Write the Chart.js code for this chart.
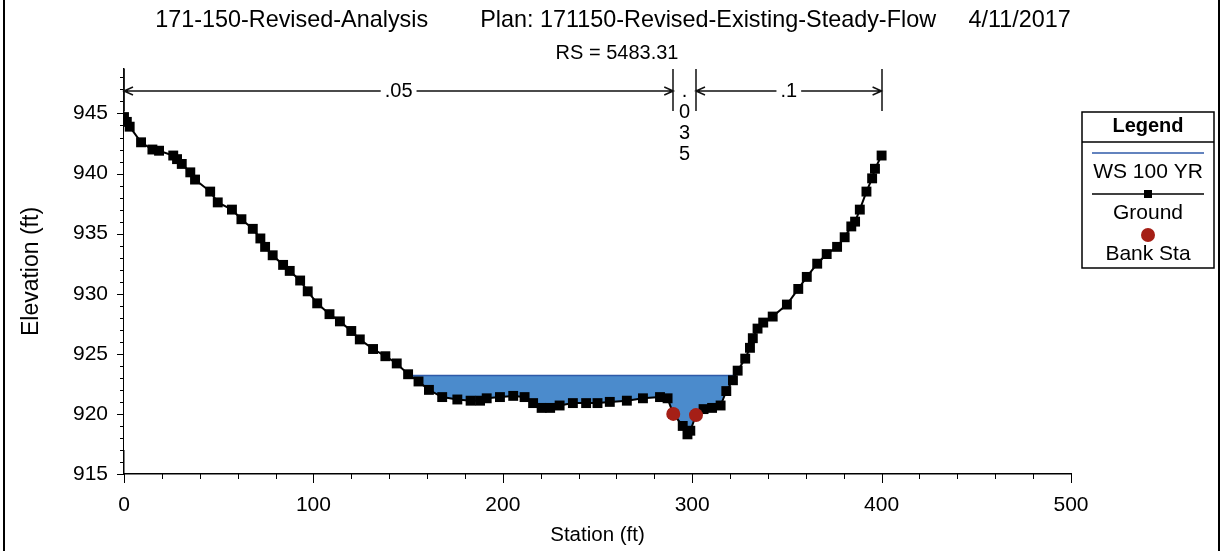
<!DOCTYPE html>
<html lang="es">
<head>
<meta charset="utf-8">
<title>RS = 5483.31</title>
<script src="https://cdn.jsdelivr.net/npm/chart.js@4.4.1/dist/chart.umd.min.js"></script>
<style>
  html, body { margin: 0; padding: 0; background: #fff; }
  #contenedor { width: 1223px; height: 551px; }
</style>
</head>
<body>
<div id="contenedor"><canvas id="graficoSeccion" width="1223" height="551"></canvas></div>
<script>
// Datos de la sección transversal
const estacionesTerreno = [0, 1.5, 3, 9, 15, 18.5, 26, 28, 30.5, 35, 37.5, 45.5, 49.5, 57, 62, 68, 72, 74.5, 78.5, 84,
    87.5, 93, 97, 102, 108.5, 114, 120, 124.5, 131.5, 138, 144, 150, 155.5, 161, 168, 176, 183, 188, 191.5, 198.5,
    205.5, 211.5, 216, 220.5, 225, 230, 237, 244, 250, 256.5, 265.5, 274, 283, 287, 290, 295, 297.5, 299, 302, 306,
    310.5, 315, 318, 321.5, 324, 328, 330.5, 332, 334.5, 337.5, 342.5, 350, 356, 360.5, 366, 371, 376.5, 380.5, 384, 386,
    388.5, 392, 395, 396.5, 400];
const cotasTerreno = [944.7, 944.3, 943.9, 942.6, 942.0, 941.9, 941.5, 941.2, 940.8, 940.1, 939.5, 938.5, 937.6, 937.0, 936.2, 935.4, 934.6, 933.9, 933.2, 932.4,
    931.9, 931.1, 930.2, 929.2, 928.3, 927.7, 926.9, 926.2, 925.4, 924.8, 924.2, 923.3, 922.7, 922.0, 921.4, 921.2, 921.1, 921.1, 921.3, 921.4,
    921.5, 921.4, 920.9, 920.5, 920.5, 920.7, 920.9, 920.9, 920.9, 921.0, 921.1, 921.3, 921.4, 921.3, 920.0, 919.0, 918.3, 918.6, 919.9, 920.4,
    920.5, 920.7, 921.9, 922.8, 923.6, 924.6, 925.5, 926.3, 927.1, 927.6, 928.1, 929.1, 930.4, 931.4, 932.5, 933.3, 933.9, 934.7, 935.6, 936.0,
    937.0, 938.5, 939.6, 940.4, 941.5];

// Nivel de agua (WS 100 YR) y estaciones de banco
const estacionesAgua = [150.9, 322.8];
const cotasAgua = [923.2, 923.2];
const estacionesBanco = [290, 302];
const cotasBanco = [920.0, 919.9];

// Coeficientes de Manning por tramo
const limitesManning = [0, 290, 302, 400];
const valoresManning = ['.05', '.035', '.1'];

// Marcas de los ejes
const ticksEstacion = [0, 100, 200, 300, 400, 500];
const ticksCota = [915, 920, 925, 930, 935, 940, 945];

const tituloLinea1 = '171-150-Revised-Analysis        Plan: 171150-Revised-Existing-Steady-Flow     4/11/2017';
const tituloLinea2 = 'RS = 5483.31';

const FUENTE = '"Liberation Sans", Arial, sans-serif';

function aPuntos(xs, ys) {
    return xs.map((valor, i) => ({ x: valor, y: ys[i] }));
}

// Dibuja títulos y marco exterior
function dibujarTitulos(chart) {
    const ctx = chart.ctx;
    ctx.save();
    ctx.fillStyle = '#000';
    ctx.textAlign = 'center';
    ctx.textBaseline = 'middle';
    ctx.font = '23.4px ' + FUENTE;
    ctx.fillText(tituloLinea1, 613, 21);
    ctx.font = '20px ' + FUENTE;
    ctx.fillText(tituloLinea2, 617, 53);

    // marco exterior
    ctx.strokeStyle = '#000';
    ctx.lineWidth = 2;
    ctx.beginPath();
    ctx.moveTo(4, 0); ctx.lineTo(4, 551);
    ctx.moveTo(1219, 0); ctx.lineTo(1219, 551);
    ctx.stroke();
    ctx.restore();
}

// Marcas mayores y menores de los ejes
function dibujarMarcasEjes(chart) {
    const { ctx, chartArea, scales: { x, y } } = chart;
    ctx.save();
    ctx.strokeStyle = '#000';
    ctx.lineWidth = 1;
    ctx.beginPath();
    for (let v = 915; v <= 948; v++) {
        const py = Math.round(y.getPixelForValue(v)) + 0.5;
        const largo = v % 5 === 0 ? 7 : 4;
        ctx.moveTo(chartArea.left - largo, py);
        ctx.lineTo(chartArea.left, py);
    }
    for (let v = 0; v <= 500; v += 20) {
        const px = Math.round(x.getPixelForValue(v)) + 0.5;
        const largo = v % 100 === 0 ? 9 : 5;
        ctx.moveTo(px, chartArea.bottom);
        ctx.lineTo(px, chartArea.bottom + largo);
    }
    ctx.stroke();
    ctx.restore();
}

function flecha(ctx, px, py, dir) {
    ctx.moveTo(px - dir * 9, py - 4);
    ctx.lineTo(px, py);
    ctx.lineTo(px - dir * 9, py + 4);
}

// Tramos de Manning sobre el gráfico
function dibujarManning(chart) {
    const { ctx, chartArea, scales: { x } } = chart;
    const ySup = chartArea.top;
    const yInf = chartArea.top + 42;
    const yFlecha = chartArea.top + 22;
    ctx.save();
    ctx.strokeStyle = '#111';
    ctx.fillStyle = '#000';
    ctx.lineWidth = 1.5;
    ctx.font = '20px ' + FUENTE;
    ctx.textAlign = 'center';
    ctx.textBaseline = 'middle';

    ctx.beginPath();
    limitesManning.forEach(est => {
        const px = Math.round(x.getPixelForValue(est));
        ctx.moveTo(px, ySup);
        ctx.lineTo(px, yInf);
    });

    valoresManning.forEach((valor, i) => {
        const x1 = x.getPixelForValue(limitesManning[i]);
        const x2 = x.getPixelForValue(limitesManning[i + 1]);
        const cx = (x1 + x2) / 2;
        const ancho = ctx.measureText(valor).width;
        if (x2 - x1 < ancho + 30) {
            // tramo estrecho: texto en vertical
            valor.split('').forEach((c, j) => ctx.fillText(c, cx, yFlecha + j * 21));
            return;
        }
        ctx.moveTo(x1, yFlecha);
        ctx.lineTo(cx - ancho / 2 - 4, yFlecha);
        ctx.moveTo(cx + ancho / 2 + 4, yFlecha);
        ctx.lineTo(x2, yFlecha);
        flecha(ctx, x1, yFlecha, -1);
        flecha(ctx, x2, yFlecha, 1);
        ctx.fillText(valor, cx, yFlecha);
    });
    ctx.stroke();
    ctx.restore();
}

// Leyenda al estilo HEC-RAS
function dibujarLeyenda(chart) {
    const ctx = chart.ctx;
    const caja = { izq: 1082, sup: 112, ancho: 132, alto: 156 };
    const cx = caja.izq + caja.ancho / 2;
    ctx.save();
    ctx.fillStyle = '#fff';
    ctx.fillRect(caja.izq, caja.sup, caja.ancho, caja.alto);
    ctx.strokeStyle = '#000';
    ctx.lineWidth = 1.5;
    ctx.strokeRect(caja.izq, caja.sup, caja.ancho, caja.alto);
    ctx.beginPath();
    ctx.moveTo(caja.izq, caja.sup + 30);
    ctx.lineTo(caja.izq + caja.ancho, caja.sup + 30);
    ctx.stroke();

    ctx.fillStyle = '#000';
    ctx.textAlign = 'center';
    ctx.textBaseline = 'middle';
    ctx.font = 'bold 20px ' + FUENTE;
    ctx.fillText('Legend', cx, caja.sup + 14);

    const orden = [2, 1, 0];
    orden.forEach((indice, i) => {
        const ds = chart.data.datasets[indice];
        const ySimbolo = 153 + i * 41;
        const yTexto = 172 + i * 41;
        if (ds.showLine !== false) {
            ctx.strokeStyle = ds.borderColor;
            ctx.lineWidth = 1.5;
            ctx.beginPath();
            ctx.moveTo(caja.izq + 10, ySimbolo);
            ctx.lineTo(caja.izq + caja.ancho - 10, ySimbolo);
            ctx.stroke();
        }
        if (ds.pointRadius > 0) {
            ctx.fillStyle = ds.pointBackgroundColor;
            ctx.beginPath();
            if (ds.pointStyle === 'rect') {
                ctx.rect(cx - 4, ySimbolo - 4, 8, 8);
            } else {
                ctx.arc(cx, ySimbolo, 7, 0, Math.PI * 2);
            }
            ctx.fill();
        }
        ctx.fillStyle = '#000';
        ctx.font = '21px ' + FUENTE;
        ctx.fillText(ds.label, cx, yTexto);
    });
    ctx.restore();
}

const pluginDecoracion = {
    id: 'decoracion',
    beforeDraw(chart) {
        dibujarTitulos(chart);
    },
    afterDraw(chart) {
        dibujarMarcasEjes(chart);
        dibujarManning(chart);
        dibujarLeyenda(chart);
    }
};

function crearGraficoSeccion() {
    const ctx = document.getElementById('graficoSeccion').getContext('2d');

    new Chart(ctx, {
        type: 'line',
        data: {
            datasets: [{
                label: 'Bank Sta',
                data: aPuntos(estacionesBanco, cotasBanco),
                showLine: false,
                pointStyle: 'circle',
                pointRadius: 7,
                pointBackgroundColor: '#a51f16',
                pointBorderWidth: 0,
                borderColor: '#a51f16'
            }, {
                label: 'Ground',
                data: aPuntos(estacionesTerreno, cotasTerreno),
                borderColor: '#000',
                borderWidth: 2,
                pointStyle: 'rect',
                pointRadius: 7,
                pointBackgroundColor: '#000',
                pointBorderWidth: 0,
                backgroundColor: '#fff',
                fill: { value: 917 }
            }, {
                label: 'WS 100 YR',
                data: aPuntos(estacionesAgua, cotasAgua),
                borderColor: '#2f5aa8',
                borderWidth: 1.5,
                pointRadius: 0,
                backgroundColor: '#4b8bcc',
                fill: { value: 917 }
            }]
        },
        options: {
            responsive: false,
            animation: false,
            layout: { padding: { top: 69, right: 152, left: 0, bottom: 0 } },
            plugins: {
                legend: { display: false },
                title: { display: false },
                tooltip: { enabled: false }
            },
            scales: {
                x: {
                    type: 'linear',
                    min: 0,
                    max: 500,
                    afterBuildTicks: escala => { escala.ticks = ticksEstacion.map(v => ({ value: v })); },
                    afterFit: escala => { escala.height = 77; },
                    grid: { display: false },
                    border: { display: true, color: '#000', width: 1.5 },
                    ticks: { color: '#000', font: { size: 21, family: FUENTE }, padding: 11, maxRotation: 0 },
                    title: { display: true, text: 'Station (ft)', color: '#000', font: { size: 20.5, family: FUENTE }, padding: { top: 0, bottom: 3 } }
                },
                y: {
                    type: 'linear',
                    min: 915,
                    max: 948.7,
                    afterBuildTicks: escala => { escala.ticks = ticksCota.map(v => ({ value: v })); },
                    afterFit: escala => { escala.width = 124; },
                    grid: { display: false },
                    border: { display: true, color: '#000', width: 1.5 },
                    ticks: { color: '#000', font: { size: 21, family: FUENTE }, padding: 8 },
                    title: { display: true, text: 'Elevation (ft)', color: '#000', font: { size: 23, family: FUENTE }, padding: { top: 18, bottom: 0 } }
                }
            }
        },
        plugins: [pluginDecoracion]
    });
}

document.addEventListener('DOMContentLoaded', crearGraficoSeccion);
</script>
</body>
</html>
